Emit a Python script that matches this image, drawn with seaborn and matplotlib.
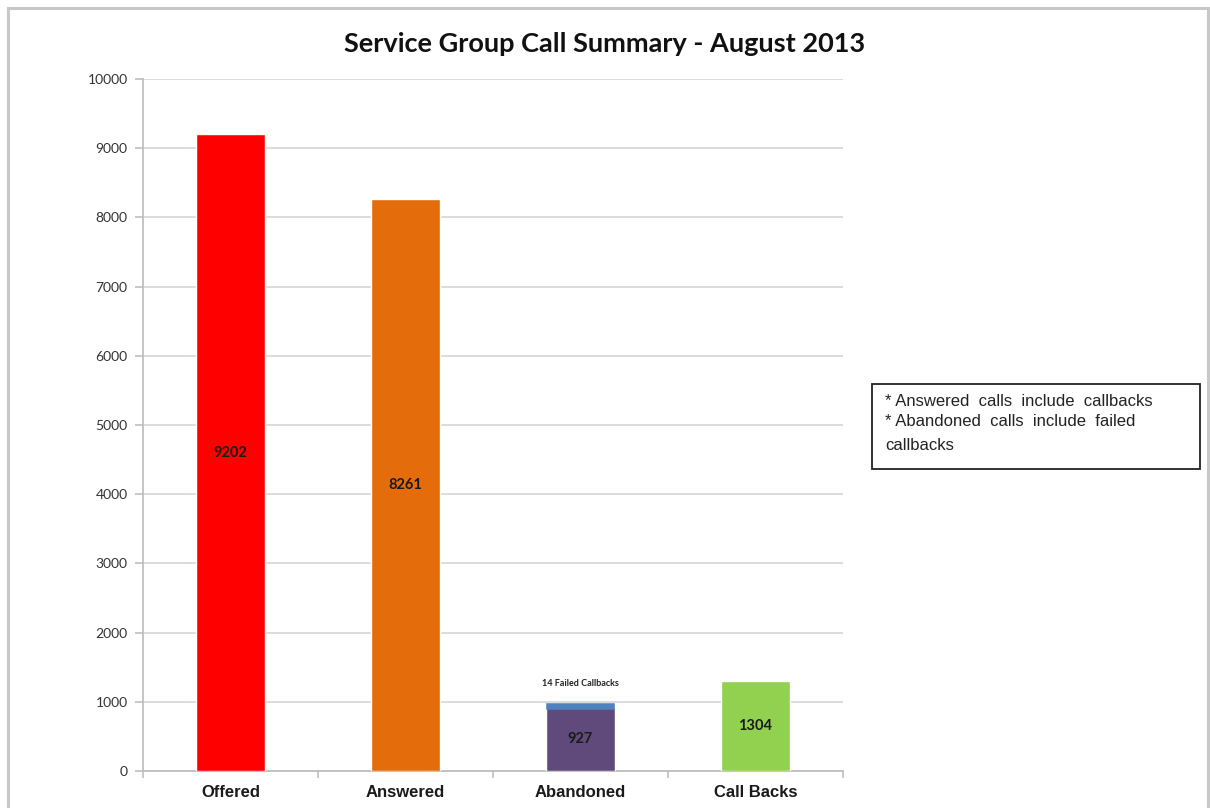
import matplotlib
matplotlib.use("Agg")
import matplotlib.pyplot as plt
from matplotlib.patches import Rectangle
import seaborn as sns
import pandas as pd

# Call volumes for the month
categories = ["Offered", "Answered", "Abandoned", "Call Backs"]
calls = [9202, 8261, 927, 1304]
failed_callbacks = 14
bar_colors = ["#FF0000", "#E46C0A", "#604A7B", "#92D050"]
failed_color = "#4F81BD"
y_ticks = [0, 1000, 2000, 3000, 4000, 5000, 6000, 7000, 8000, 9000, 10000]
notes = ["* Answered  calls  include  callbacks",
         "* Abandoned  calls  include  failed",
         "callbacks"]

sns.set_theme(style="white")
plt.rcParams["font.family"] = ["Liberation Sans", "DejaVu Sans"]

fig = plt.figure(figsize=(12.10, 8.08), dpi=100)
ax = fig.add_axes([143 / 1210, 1 - 771 / 808, 700 / 1210, 692 / 808])

df = pd.DataFrame({"category": categories, "calls": calls})
sns.barplot(data=df, x="category", y="calls", hue="category",
            palette=bar_colors, legend=False, width=0.394,
            saturation=1, ax=ax, zorder=3)

# Failed callbacks stacked on top of the abandoned bar (thick edge keeps it visible)
ab = categories.index("Abandoned")
ax.bar(ab, failed_callbacks, bottom=calls[ab], width=0.362,
       color=failed_color, edgecolor=failed_color, linewidth=4,
       joinstyle="miter", zorder=3)
ax.text(ab, calls[ab] + failed_callbacks + 330, f"{failed_callbacks} Failed Callbacks",
        ha="center", va="center", fontsize=6.5, fontweight="bold",
        family=["Lato", "DejaVu Sans"], color="#222222")

# Value labels centred inside each bar
for i, v in enumerate(calls):
    ax.text(i, v / 2, str(v), ha="center", va="center", fontsize=10.5,
            fontweight="bold", family=["Lato", "DejaVu Sans"], color="#1a1a1a",
            zorder=4)

ax.set_ylim(0, 10000)
ax.set_xlim(-0.5, 3.5)
ax.set_yticks(y_ticks)
ax.set_yticklabels([str(t) for t in y_ticks], family=["Lato", "DejaVu Sans"],
                   fontsize=10, color="#333333")
ax.yaxis.grid(True, color="#D9D9D9", linewidth=1.3, zorder=0)
ax.xaxis.grid(False)
ax.set_axisbelow(True)
ax.set_xlabel("")
ax.set_ylabel("")

for side in ["top", "right"]:
    ax.spines[side].set_visible(False)
for side in ["left", "bottom"]:
    ax.spines[side].set_color("#BFBFBF")
    ax.spines[side].set_linewidth(1.3)

ax.tick_params(axis="y", which="major", left=True, length=6, width=1.2,
               color="#BFBFBF", pad=5)
# Category names without ticks; tick marks at category boundaries
ax.set_xticks(range(len(categories)))
ax.set_xticklabels(categories, fontsize=12, fontweight="bold", color="#1a1a1a")
ax.tick_params(axis="x", which="major", bottom=False, pad=4)
ax.set_xticks([-0.5, 0.5, 1.5, 2.5, 3.5], minor=True)
ax.tick_params(axis="x", which="minor", bottom=True, length=5, width=1.2,
               color="#BFBFBF")

fig.text(0.5, 1 - 44 / 808, "Service Group Call Summary - August 2013",
         ha="center", va="center", fontsize=19.5, fontweight="bold",
         family=["Lato", "DejaVu Sans"], color="#111111")

# Notes box
fig.patches.append(Rectangle((872 / 1210, 1 - 469 / 808), 328 / 1210, 85 / 808,
                             transform=fig.transFigure, fill=False,
                             edgecolor="#222222", linewidth=1.3))
for line, y in zip(notes, [402, 422, 445]):
    fig.text(885 / 1210, 1 - y / 808, line, ha="left", va="center",
             fontsize=12, color="#222222")

# Outer frame
fig.patches.append(Rectangle((8 / 1210, -0.05), 1200 / 1210, 1.05 - 8 / 808,
                             transform=fig.transFigure, fill=False,
                             edgecolor="#C8C8C8", linewidth=2.2))

fig.savefig("out.png", dpi=100)
